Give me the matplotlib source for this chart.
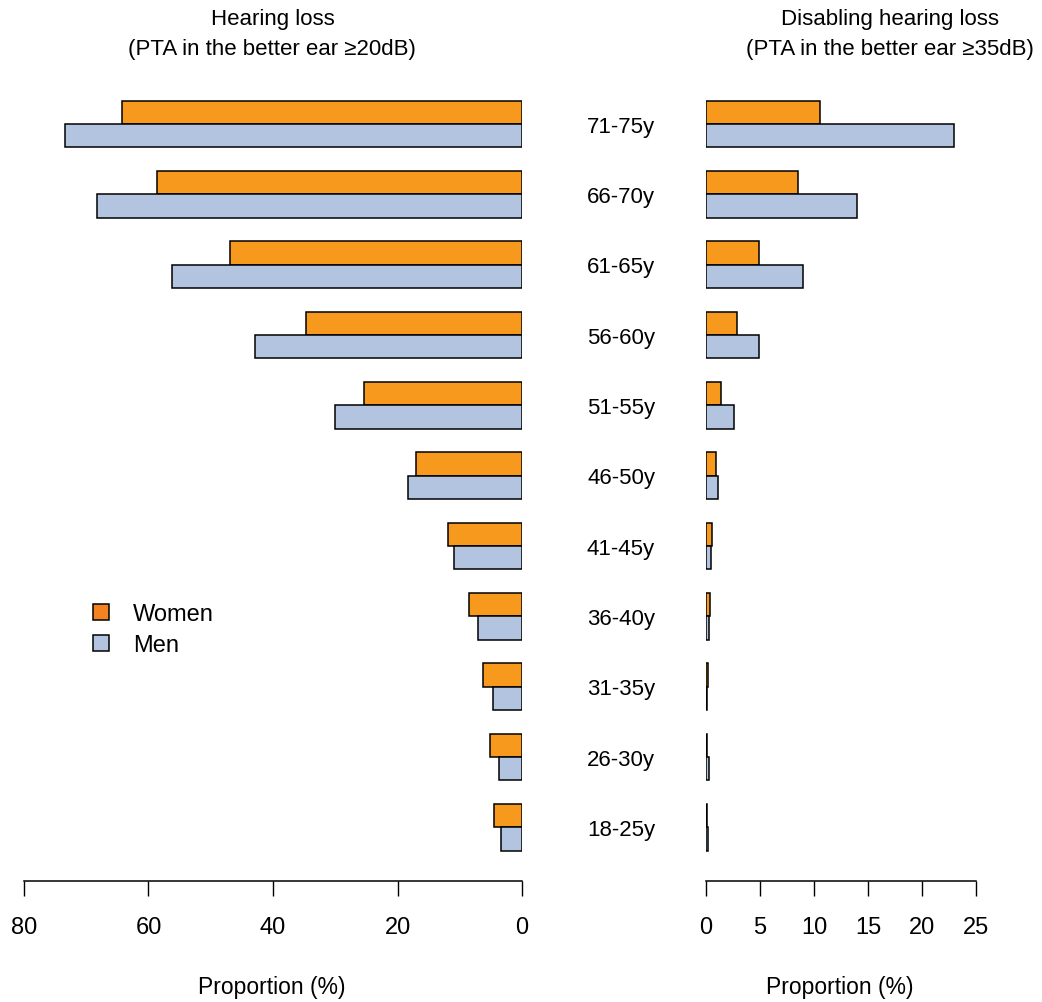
import matplotlib
matplotlib.use("Agg")
import matplotlib.pyplot as plt
from matplotlib.patches import Patch
from matplotlib import transforms
import numpy as np

ages = ["18-25y", "26-30y", "31-35y", "36-40y", "41-45y", "46-50y",
        "51-55y", "56-60y", "61-65y", "66-70y", "71-75y"]
hl_women = [4.45, 5.1, 6.3, 8.5, 11.9, 17.0, 25.4, 34.7, 46.9, 58.6, 64.2]
hl_men = [3.4, 3.65, 4.7, 7.0, 10.9, 18.3, 30.0, 42.9, 56.2, 68.3, 73.4]
dhl_women = [0.08, 0.08, 0.18, 0.35, 0.55, 0.9, 1.35, 2.9, 4.9, 8.5, 10.6]
dhl_men = [0.2, 0.25, 0.08, 0.3, 0.5, 1.1, 2.55, 4.9, 9.0, 14.0, 22.95]
left_ticks = [80, 60, 40, 20, 0]
right_ticks = [0, 5, 10, 15, 20, 25]

C_W = "#F7991C"
C_M = "#B3C4E0"
C_W_LEG = "#F58220"

fam = ["Liberation Sans", "DejaVu Sans"]
plt.rcParams["font.family"] = fam

W, H = 1042, 1003
fig = plt.figure(figsize=(W / 100, H / 100), dpi=100)

def fx(px):
    return px / W

def fy(py):
    return 1 - py / H

top_px, bot_px = 90, 882
spacing = 70.33
y_center_top = 125.0
ylim_top = 10 + (y_center_top - top_px) / spacing
ylim_bot = 0 - (bot_px - (y_center_top + 10 * spacing)) / spacing

axL = fig.add_axes([fx(24), fy(bot_px), fx(522 - 24), (bot_px - top_px) / H])
axR = fig.add_axes([fx(706), fy(bot_px), fx(976 - 706), (bot_px - top_px) / H])

y = np.arange(len(ages))
h = 1 / 3
for ax, w, m in [(axL, hl_women, hl_men), (axR, dhl_women, dhl_men)]:
    ax.barh(y + h / 2, w, height=h, color=C_W, edgecolor="black", linewidth=1.1)
    ax.barh(y - h / 2, m, height=h, color=C_M, edgecolor="black", linewidth=1.1)
    ax.set_ylim(ylim_bot, ylim_top)
    for s in ["top", "left", "right"]:
        ax.spines[s].set_visible(False)
    ax.spines["bottom"].set_linewidth(1.1)
    ax.set_yticks([])
    ax.tick_params(axis="x", length=11, width=1.0, pad=14, labelsize=17)
    ax.patch.set_alpha(0)

axL.set_xlim(80, 0)
axL.set_xticks(left_ticks)
axR.set_xlim(0, 25)
axR.set_xticks(right_ticks)

trans = transforms.blended_transform_factory(fig.transFigure, axL.transData)
for i, lab in enumerate(ages):
    axL.text(fx(621), i - 0.03, lab, transform=trans, ha="center", va="center",
             fontsize=16, clip_on=False)

fig.text(fx(273), fy(20), "Hearing loss", ha="center", va="center", fontsize=16)
fig.text(fx(272), fy(50), "(PTA in the better ear \u226520dB)", ha="center", va="center", fontsize=16)
fig.text(fx(890), fy(20), "Disabling hearing loss", ha="center", va="center", fontsize=16)
fig.text(fx(890), fy(50), "(PTA in the better ear \u226535dB)", ha="center", va="center", fontsize=16)

fig.text(fx(272), fy(988), "Proportion (%)", ha="center", va="center", fontsize=16.5)
fig.text(fx(840), fy(988), "Proportion (%)", ha="center", va="center", fontsize=16.5)

handles = [Patch(facecolor=C_W_LEG, edgecolor="black", linewidth=1.1, label="Women"),
           Patch(facecolor=C_M, edgecolor="black", linewidth=1.1, label="Men")]
fig.legend(handles=handles, loc="upper left", bbox_to_anchor=(fx(93), fy(604)),
           frameon=False, prop={"size": 17},
           handlelength=0.68, handleheight=0.68, handletextpad=1.0, labelspacing=0.4,
           borderpad=0, borderaxespad=0)

fig.savefig("out.png", dpi=100)
